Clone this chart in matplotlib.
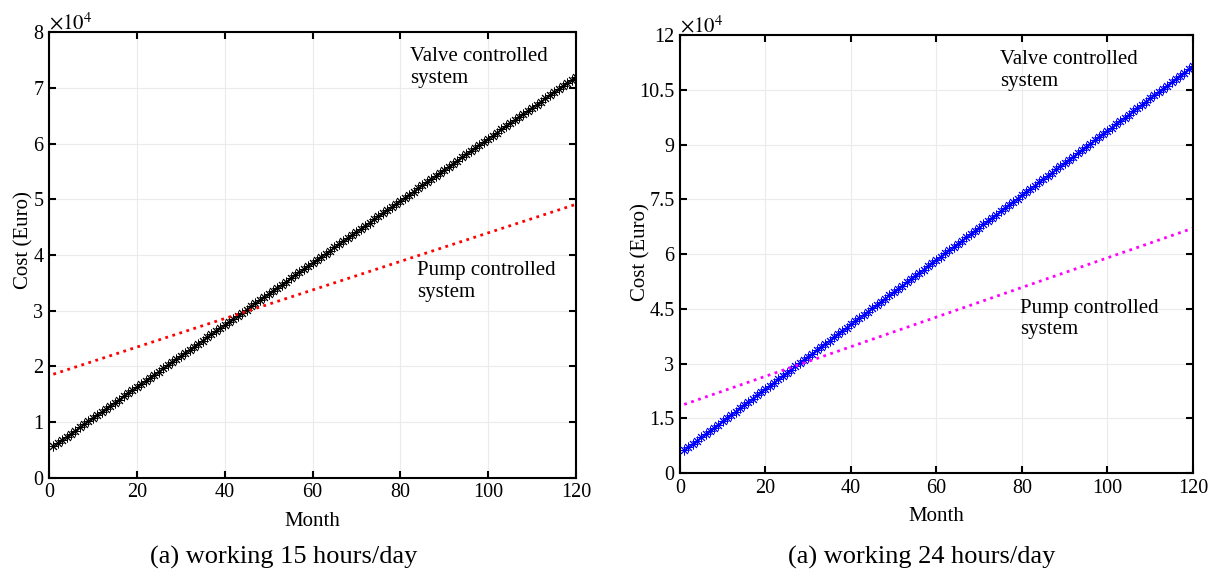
import numpy as np
import matplotlib.pyplot as plt
from matplotlib.ticker import FuncFormatter

plt.rcParams['font.family'] = ['Liberation Serif', 'DejaVu Serif']
plt.rcParams['mathtext.fontset'] = 'stix'

months = list(range(1, 121))

# cumulative cost, working 15 hours/day (Euro)
valve_15h = [5707, 6264, 6821, 7378, 7935, 8492, 9049, 9606, 10163, 10720,
             11277, 11834, 12391, 12948, 13505, 14062, 14619, 15176, 15733, 16290,
             16847, 17404, 17961, 18518, 19075, 19632, 20189, 20746, 21303, 21860,
             22417, 22974, 23531, 24088, 24645, 25202, 25759, 26316, 26873, 27430,
             27987, 28544, 29101, 29658, 30215, 30772, 31329, 31886, 32443, 33000,
             33557, 34114, 34671, 35228, 35785, 36342, 36899, 37456, 38013, 38570,
             39127, 39684, 40241, 40798, 41355, 41912, 42469, 43026, 43583, 44140,
             44697, 45254, 45811, 46368, 46925, 47482, 48039, 48596, 49153, 49710,
             50267, 50824, 51381, 51938, 52495, 53052, 53609, 54166, 54723, 55280,
             55837, 56394, 56951, 57508, 58065, 58622, 59179, 59736, 60293, 60850,
             61407, 61964, 62521, 63078, 63635, 64192, 64749, 65306, 65863, 66420,
             66977, 67534, 68091, 68648, 69205, 69762, 70319, 70876, 71433, 71990]
pump_months = [1, 120]
pump_15h = [18600, 49100]

# cumulative cost, working 24 hours/day (Euro)
valve_24h = [6205, 7090, 7975, 8860, 9745, 10630, 11515, 12400, 13285, 14170,
             15055, 15940, 16825, 17710, 18595, 19480, 20365, 21250, 22135, 23020,
             23905, 24790, 25675, 26560, 27445, 28330, 29215, 30100, 30985, 31870,
             32755, 33640, 34525, 35410, 36295, 37180, 38065, 38950, 39835, 40720,
             41605, 42490, 43375, 44260, 45145, 46030, 46915, 47800, 48685, 49570,
             50455, 51340, 52225, 53110, 53995, 54880, 55765, 56650, 57535, 58420,
             59305, 60190, 61075, 61960, 62845, 63730, 64615, 65500, 66385, 67270,
             68155, 69040, 69925, 70810, 71695, 72580, 73465, 74350, 75235, 76120,
             77005, 77890, 78775, 79660, 80545, 81430, 82315, 83200, 84085, 84970,
             85855, 86740, 87625, 88510, 89395, 90280, 91165, 92050, 92935, 93820,
             94705, 95590, 96475, 97360, 98245, 99130, 100015, 100900, 101785, 102670,
             103555, 104440, 105325, 106210, 107095, 107980, 108865, 109750, 110635, 111520]
pump_24h = [18800, 67100]

xticks = [0, 20, 40, 60, 80, 100, 120]
yticks_15h = [0, 10000, 20000, 30000, 40000, 50000, 60000, 70000, 80000]
yticks_24h = [0, 15000, 30000, 45000, 60000, 75000, 90000, 105000, 120000]

fig = plt.figure(figsize=(12.09, 5.73), dpi=100)
ax1 = fig.add_axes([0.0405, 0.166, 0.436, 0.778])
ax2 = fig.add_axes([0.5624, 0.1745, 0.4243, 0.764])

fmt = FuncFormatter(lambda v, p: '{:g}'.format(v / 1e4))


def style(ax, yticks, ylab_pos, xlab_y):
    ax.set_xlim(0, 120)
    ax.set_ylim(yticks[0], yticks[-1])
    ax.set_xticks(xticks)
    ax.set_yticks(yticks)
    ax.yaxis.set_major_formatter(fmt)
    ax.grid(True, color='#ebebeb', linewidth=0.8)
    ax.set_axisbelow(True)
    ax.tick_params(direction='in', top=True, right=True, labelsize=14.5,
                   length=5, width=1.5, pad=4)
    for s in ax.spines.values():
        s.set_linewidth(1.5)
    ax.set_xlabel('Month', fontsize=15)
    ax.set_ylabel('Cost (Euro)', fontsize=15)
    ax.yaxis.set_label_coords(*ylab_pos)
    ax.xaxis.set_label_coords(0.5, xlab_y)
    ax.text(0.0, 0.995, r'$\times10^{4}$', transform=ax.transAxes,
            ha='left', va='bottom', fontsize=15)


ax1.plot(months, valve_15h, '-', color='black', marker=(8, 2, 0),
         markersize=7, markeredgewidth=0.7, linewidth=1)
ax1.plot(pump_months, pump_15h, ':', color='red', linewidth=2)
style(ax1, yticks_15h, (-0.030, 0.534), -0.076)
ax1.text(82.2, 77300, 'Valve controlled\nsystem', fontsize=15, va='top')
ax1.text(83.8, 38900, 'Pump controlled\nsystem', fontsize=15, va='top')

ax2.plot(months, valve_24h, '-', color='blue', marker=(8, 2, 0),
         markersize=7, markeredgewidth=0.7, linewidth=1)
ax2.plot(pump_months, pump_24h, ':', color='magenta', linewidth=2)
style(ax2, yticks_24h, (-0.058, 0.505), -0.078)
ax2.text(74.9, 116000, 'Valve controlled\nsystem', fontsize=15, va='top')
ax2.text(79.5, 47800, 'Pump controlled\nsystem', fontsize=15, va='top')

fig.text(284 / 1209, 1 - 557 / 573, '(a) working 15 hours/day',
         ha='center', va='center', fontsize=19)
fig.text(922 / 1209, 1 - 557 / 573, '(a) working 24 hours/day',
         ha='center', va='center', fontsize=19)

fig.savefig('out.png', dpi=100)
